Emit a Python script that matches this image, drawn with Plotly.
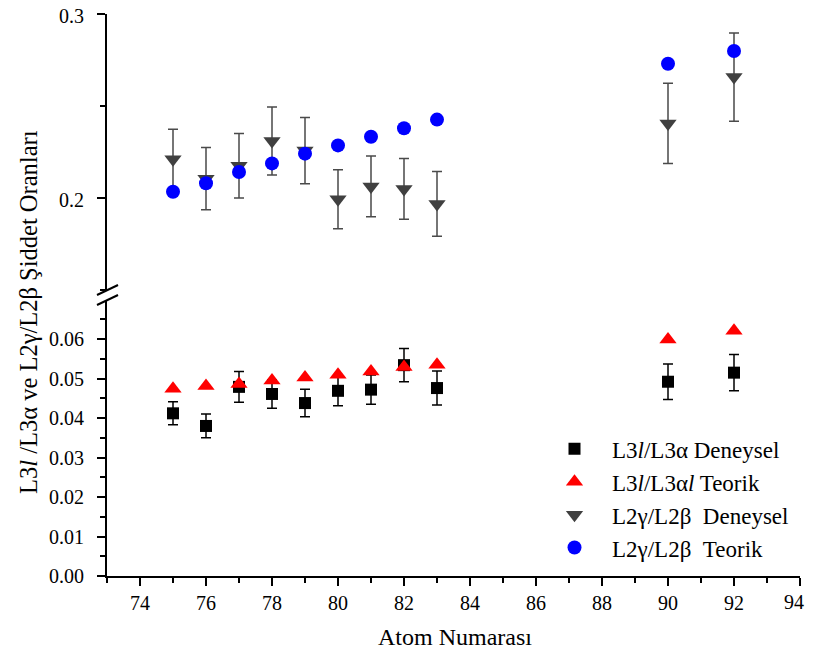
import plotly.graph_objects as go

# ---- data ----
atom_numbers = [75, 76, 77, 78, 79, 80, 81, 82, 83, 90, 92]

l3_exp = [0.0412, 0.0380, 0.0479, 0.0461, 0.0438, 0.0469, 0.0472, 0.0534, 0.0476, 0.0492, 0.0515]
l3_exp_err = [0.0029, 0.0030, 0.0039, 0.0036, 0.0035, 0.0038, 0.0037, 0.0042, 0.0043, 0.0045, 0.0046]
l3_theo = [0.0474, 0.0481, 0.0486, 0.0495, 0.0503, 0.0510, 0.0518, 0.0529, 0.0535, 0.0599, 0.0621]

l2_exp = [0.2210, 0.2105, 0.2175, 0.2310, 0.2258, 0.1993, 0.2063, 0.2049, 0.1968, 0.2405, 0.2657]
l2_exp_err = [0.0163, 0.0169, 0.0175, 0.0185, 0.0180, 0.0160, 0.0165, 0.0165, 0.0176, 0.0218, 0.0240]
l2_theo = [0.2034, 0.2080, 0.2141, 0.2188, 0.2241, 0.2286, 0.2333, 0.2379, 0.2426, 0.2730, 0.2799]

x_tickvals = [74, 76, 78, 80, 82, 84, 86, 88, 90, 92]
x_last_tick = [94]

names = [
    "L3<i>l</i>/L3\u03b1 Deneysel",
    "L3<i>l</i>/L3\u03b1<i>l</i> Teorik",
    "L2\u03b3/L2\u03b2\u00a0 Deneysel",
    "L2\u03b3/L2\u03b2\u00a0 Teorik",
]

FONT = "Liberation Serif"

fig = go.Figure()

fig.add_trace(go.Scatter(
    x=atom_numbers, y=l3_exp, mode="markers", name=names[0],
    marker=dict(symbol="square", size=12, color="black"),
    error_y=dict(type="data", array=l3_exp_err, color="black", thickness=1.5, width=5),
    xaxis="x", yaxis="y",
))
fig.add_trace(go.Scatter(
    x=atom_numbers, y=l3_theo, mode="markers", name=names[1],
    marker=dict(symbol="triangle-up", size=15, color="#ff0000"),
    xaxis="x", yaxis="y",
))
fig.add_trace(go.Scatter(
    x=atom_numbers, y=l2_exp, mode="markers", name=names[2],
    marker=dict(symbol="triangle-down", size=15, color="#404040"),
    error_y=dict(type="data", array=l2_exp_err, color="#4a4a4a", thickness=1.5, width=5),
    xaxis="x", yaxis="y2",
))
fig.add_trace(go.Scatter(
    x=atom_numbers, y=l2_theo, mode="markers", name=names[3],
    marker=dict(symbol="circle", size=14, color="#0000ff"),
    xaxis="x", yaxis="y2",
))
# invisible helper trace so the overlay axis carrying the last tick label is drawn
fig.add_trace(go.Scatter(
    x=x_last_tick, y=[0], mode="markers", marker=dict(opacity=0, size=1),
    showlegend=False, hoverinfo="skip", xaxis="x2", yaxis="y",
))

axis_common = dict(
    showline=True, linecolor="black", linewidth=2,
    ticks="outside", ticklen=8, tickwidth=2, tickcolor="black",
    showgrid=False, zeroline=False, mirror=False, automargin=False,
    ticklabeloverflow="allow",
    tickfont=dict(family=FONT, size=20, color="black"),
)

fig.update_layout(
    width=806, height=642,
    margin=dict(l=99, r=14, t=6, b=74, autoexpand=False),
    paper_bgcolor="white", plot_bgcolor="white",
    font=dict(family=FONT, color="black"),
    showlegend=True,
    legend=dict(
        x=0.6205, y=0.2644, xanchor="left", yanchor="top",
        font=dict(family=FONT, size=23, color="black"),
        bgcolor="rgba(0,0,0,0)", borderwidth=0,
        itemwidth=65, tracegroupgap=0,
    ),
    xaxis=dict(
        range=[73, 94], anchor="y",
        tickvals=x_tickvals + x_last_tick,
        ticktext=[str(v) for v in x_tickvals] + [""],
        minor=dict(dtick=1, ticks="outside", ticklen=5, tickwidth=2, tickcolor="black"),
        **axis_common,
    ),
    xaxis2=dict(
        range=[73, 94], anchor="y", overlaying="x", side="bottom",
        tickvals=x_last_tick, ticktext=[str(v) for v in x_last_tick],
        showline=False, ticks="outside", ticklen=8, tickcolor="rgba(0,0,0,0)",
        showgrid=False, zeroline=False, automargin=False,
        ticklabeloverflow="allow", ticklabelshift=-6,
        tickfont=dict(family=FONT, size=20, color="black"),
    ),
    yaxis=dict(
        domain=[0, 0.4911], range=[0, 0.0699], anchor="x",
        dtick=0.01, tick0=0, tickformat=".2f",
        minor=dict(dtick=0.005, ticks="outside", ticklen=5, tickwidth=2, tickcolor="black"),
        ticklabelstandoff=9,
        **axis_common,
    ),
    yaxis2=dict(
        domain=[0.5089, 1], range=[0.15, 0.3], anchor="x",
        dtick=0.1, tick0=0, tickformat=".1f",
        minor=dict(dtick=0.05, ticks="outside", ticklen=5, tickwidth=2, tickcolor="black"),
        ticklabelstandoff=9, ticklabelshift=2,
        **axis_common,
    ),
)

# break marks on the y axis
for y0, y1 in [(0.5, 0.5178), (0.4822, 0.5)]:
    fig.add_shape(type="line", xref="paper", yref="paper",
                  x0=-0.0144, y0=y0, x1=0.0159, y1=y1,
                  line=dict(color="black", width=2))

# axis titles
fig.add_annotation(
    text="Atom Numaras\u0131", xref="paper", yref="paper",
    x=0.502, y=-0.1085, xanchor="center", yanchor="middle", showarrow=False,
    font=dict(family=FONT, size=24, color="black"),
)
fig.add_annotation(
    text="L3<i>l</i> /L3\u03b1 ve L2\u03b3/L2\u03b2 \u015eiddet Oranlar\u0131",
    xref="paper", yref="paper", x=-0.1126, y=0.4698,
    xanchor="center", yanchor="middle", textangle=-90, showarrow=False,
    font=dict(family=FONT, size=24.5, color="black"),
)

fig.write_html("out.html")
